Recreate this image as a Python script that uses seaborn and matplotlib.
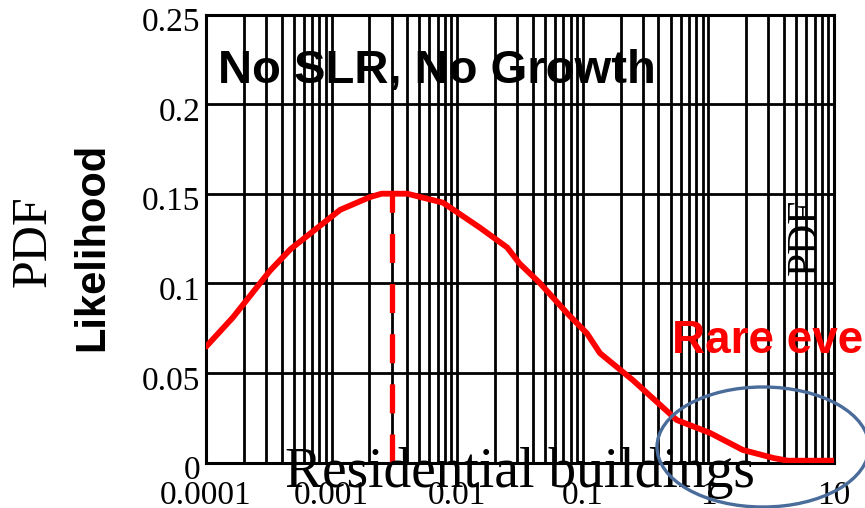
import matplotlib
matplotlib.use("Agg")
import matplotlib.pyplot as plt
import matplotlib.transforms as mtransforms
from matplotlib.patches import Ellipse
import numpy as np
import pandas as pd
import seaborn as sns

# ---- data ----
loss = [0.0001, 0.000164, 0.000323, 0.00047, 0.00117, 0.002, 0.0025, 0.004,
        0.0077, 0.0152, 0.025, 0.0314, 0.0457, 0.0748, 0.108, 0.137, 0.25,
        0.56, 1.03, 1.88, 3.3, 4.3, 10]
pdf = [0.0646, 0.081, 0.107, 0.119, 0.141, 0.148, 0.150, 0.150,
       0.145, 0.131, 0.120, 0.111, 0.100, 0.0834, 0.072, 0.061, 0.046,
       0.0237, 0.0165, 0.007, 0.0025, 0.001, 0.001]
mode_x = 0.003
mode_y = 0.15
y_ticks = [0, 0.05, 0.1, 0.15, 0.2, 0.25]
y_ticklabels = ["0", "0.05", "0.1", "0.15", "0.2", "0.25"]
x_ticks = [0.0001, 0.001, 0.01, 0.1, 1, 10]
x_ticklabels = ["0.0001", "0.001", "0.01", "0.1", "1", "10"]

sns.set_theme(style="white")
SERIF = ["Liberation Serif", "DejaVu Serif"]
SANS = ["Liberation Sans", "DejaVu Sans"]
plt.rcParams["font.family"] = SERIF

fig = plt.figure(figsize=(8.65, 5.08), dpi=100)
ax = fig.add_axes([206 / 865, 1 - 462.5 / 508, 628 / 865, 448 / 508])

df = pd.DataFrame({"loss": loss, "pdf": pdf})
sns.lineplot(data=df, x="loss", y="pdf", ax=ax, color="#ff0000", lw=4.2,
             zorder=4, sort=False)
ax.plot([mode_x, mode_x], [0, mode_y], color="#ff0000", lw=3.8,
        dashes=(5.5, 4), zorder=4)

ax.set_xscale("log")
ax.set_xlim(0.0001, 10)
ax.set_ylim(0, 0.25)

# grid
ax.set_axisbelow(False)
ax.xaxis.set_minor_locator(matplotlib.ticker.LogLocator(base=10, subs=np.arange(2, 10)))
ax.xaxis.set_minor_formatter(matplotlib.ticker.NullFormatter())
ax.grid(which="both", axis="x", color="black", lw=2.0, zorder=2.5)
ax.grid(which="major", axis="y", color="black", lw=2.0, zorder=2.5)
for s in ax.spines.values():
    s.set_color("black")
    s.set_linewidth(2.2)

ax.set_xticks(x_ticks)
ax.set_xticklabels(x_ticklabels)
ax.set_yticks(y_ticks)
ax.set_yticklabels(y_ticklabels)
ax.tick_params(axis="both", which="both", length=0)
ax.tick_params(axis="x", pad=13, labelsize=24, labelcolor="black")
ax.tick_params(axis="y", pad=4, labelsize=24, labelcolor="black")
for lab in ax.get_xticklabels() + ax.get_yticklabels():
    lab.set_fontfamily(SERIF)
offset = mtransforms.ScaledTranslation(0, -0.05, fig.dpi_scale_trans)
for lab in ax.get_yticklabels():
    lab.set_transform(lab.get_transform() + offset)
ax.set_xlabel("")
ax.set_ylabel("")

# texts
ax.text(0.019, 0.847, "No SLR, No Growth", transform=ax.transAxes,
        fontsize=34, fontweight="bold", family=SANS, color="black",
        ha="left", va="baseline", zorder=5)
ax.text(0.742, 0.244, "Rare events", transform=ax.transAxes,
        fontsize=33, fontweight="bold", family=SANS, color="#ff0000",
        ha="left", va="baseline", zorder=5, clip_on=False)
ax.text(0.5, -0.055, "Residential buildings", transform=ax.transAxes,
        fontsize=40, family=SERIF, color="black", ha="center",
        va="baseline", zorder=5, clip_on=False)
ax.text(806 / 865, 1 - 237 / 508, "PDF", transform=fig.transFigure,
        fontsize=30, family=SERIF, color="black", rotation=90,
        ha="center", va="center", zorder=1)
fig.text(33 / 865, 1 - 241 / 508, "PDF", fontsize=36, family=SERIF,
         rotation=90, ha="center", va="center", color="black")
fig.text(92 / 865, 1 - 247 / 508, "Likelihood", fontsize=30,
         fontweight="bold", family=SANS, rotation=90, ha="center",
         va="center", color="black")

ell = Ellipse((763 / 865, 1 - 447 / 508), 212 / 865, 120 / 508,
              transform=fig.transFigure, fill=False, edgecolor="#4a6c9b",
              lw=2.4, zorder=6, clip_on=False)
fig.patches.append(ell)

fig.savefig("out.png", dpi=100)
